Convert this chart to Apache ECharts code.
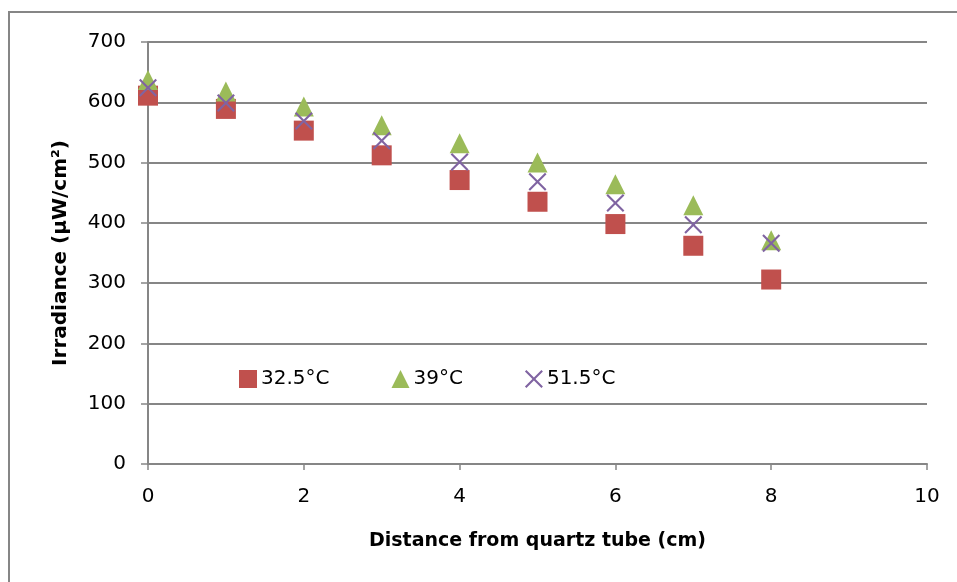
<!DOCTYPE html>
<html>
<head>
<meta charset="utf-8">
<script src="https://cdn.jsdelivr.net/npm/echarts@6/dist/echarts.min.js"></script>
<style>html,body{margin:0;padding:0;background:#fff}#c{width:957px;height:582px}</style>
</head>
<body>
<div id="c"></div>
<script>
const distances = [0, 1, 2, 3, 4, 5, 6, 7, 8];
const seriesNames = ['32.5°C', '39°C', '51.5°C'];
const irr325 = [611, 589, 553, 512, 471, 435, 398, 362, 306];
const irr39 = [637, 618, 593, 562, 532, 500, 464, 429, 371];
const irr515 = [624, 599, 569, 536, 501, 468, 433, 397, 366];
const xTicks = [0, 2, 4, 6, 8, 10];
const yTicks = [0, 100, 200, 300, 400, 500, 600, 700];

const xPath = 'path://M0,1.5 L1.5,0 L9,7.5 L16.5,0 L18,1.5 L10.5,9 L18,16.5 L16.5,18 L9,10.5 L1.5,18 L0,16.5 L7.5,9 Z';
const pair = (ys) => distances.map((d, i) => [d, ys[i]]);
const font = 'DejaVu Sans';
const axisGrey = '#868686';

const chart = echarts.init(document.getElementById('c'));
chart.setOption({
  animation: false,
  backgroundColor: '#fff',
  textStyle: { fontFamily: font },
  grid: { left: 148, right: 30, top: 42, bottom: 118 },
  xAxis: {
    type: 'value', min: 0, max: 10, interval: 2,
    name: 'Distance from quartz tube (cm)', nameLocation: 'middle', nameGap: 68,
    nameTextStyle: { fontFamily: font, fontWeight: 'bold', fontSize: 19, color: '#000' },
    axisLine: { show: true, lineStyle: { color: axisGrey, width: 2 } },
    axisTick: { show: true, length: 6, lineStyle: { color: axisGrey, width: 1.5 } },
    axisLabel: { fontSize: 20, color: '#000', margin: 23, formatter: v => xTicks.includes(v) ? String(v) : '' },
    splitLine: { show: false }
  },
  yAxis: {
    type: 'value', min: 0, max: 700, interval: 100,
    name: 'Irradiance (µW/cm²)', nameLocation: 'middle', nameGap: 77, nameRotate: 90,
    nameTextStyle: { fontFamily: font, fontWeight: 'bold', fontSize: 20, color: '#000' },
    axisLine: { show: true, lineStyle: { color: axisGrey, width: 2 } },
    axisTick: { show: true, length: 7, lineStyle: { color: axisGrey, width: 1.5 } },
    axisLabel: { fontSize: 20, color: '#000', margin: 22, formatter: v => yTicks.includes(v) ? String(v) : '' },
    splitLine: { show: true, lineStyle: { color: axisGrey, width: 2 } }
  },
  legend: {
    left: 239, top: 369, padding: 0, itemWidth: 18, itemHeight: 18, itemGap: 62,
    textStyle: { fontSize: 20, color: '#000', fontFamily: font, padding: [0, 0, 0, -1] },
    data: [
      { name: seriesNames[0], icon: 'rect' },
      { name: seriesNames[1], icon: 'triangle' },
      { name: seriesNames[2], icon: xPath }
    ]
  },
  graphic: [
    { type: 'polyline', shape: { points: [[9, 582], [9, 12], [957, 12]] }, style: { stroke: axisGrey, lineWidth: 2, fill: 'none' }, silent: true }
  ],
  series: [
    { name: seriesNames[0], type: 'scatter', data: pair(irr325), symbol: 'rect', symbolSize: 20, itemStyle: { color: '#C0504D', opacity: 1 }, z: 2 },
    { name: seriesNames[1], type: 'scatter', data: pair(irr39), symbol: 'triangle', symbolSize: 20, itemStyle: { color: '#9BBB59', opacity: 1 }, z: 3 },
    { name: seriesNames[2], type: 'scatter', data: pair(irr515), symbol: xPath, symbolSize: 18, itemStyle: { color: '#8064A2', opacity: 1 }, z: 4 }
  ]
});
</script>
</body>
</html>
